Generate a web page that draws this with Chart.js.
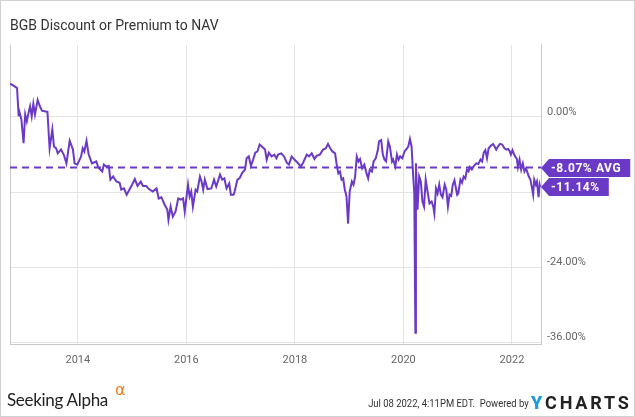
<!DOCTYPE html>
<html>
<head>
<meta charset="utf-8">
<title>BGB Discount or Premium to NAV</title>
<script src="https://cdn.jsdelivr.net/npm/chart.js@4.4.0/dist/chart.umd.min.js"></script>
<style>
  html, body { margin: 0; padding: 0; background: #fff; }
  #wrap { position: relative; width: 635px; height: 417px; overflow: hidden; font-family: Roboto, sans-serif; }
  #wrap canvas { position: absolute; left: 0; top: 0; }
  #frame { position: absolute; left: 0; top: 0; width: 633px; height: 415px; border: 1px solid #d0d0d0; pointer-events: none; }
  .sa { position: absolute; left: 7px; top: 389px; font: 17px Lato, sans-serif; color: #222; letter-spacing: -0.3px; white-space: nowrap; }
  .alpha { position: absolute; left: 115px; top: 380px; font: 16px "DejaVu Sans", sans-serif; color: #f47a20; }
  .stamp { position: absolute; right: 106px; top: 397px; font: 11px Roboto, sans-serif; color: #333; white-space: pre; transform: scaleX(0.86); transform-origin: right center; }
  .ych { position: absolute; left: 531px; top: 392px; font: bold 18px Roboto, sans-serif; letter-spacing: 2.8px; color: #222; white-space: nowrap; }
  .ych b { color: #1e9be0; }
</style>
</head>
<body>
<div id="wrap">
  <canvas id="navChart" width="635" height="417"></canvas>
  <div id="frame"></div>
  <div class="sa">Seeking Alpha</div>
  <div class="alpha">α</div>
  <div class="stamp">Jul 08 2022, 4:11PM EDT.  Powered by</div>
  <div class="ych"><b>Y</b>CHARTS</div>
</div>
<script>
// weekly-ish readings, dates as decimal years
const dates = [
  2012.75, 2012.83, 2012.88, 2012.91, 2012.92, 2012.96,
  2013.00, 2013.03, 2013.06, 2013.09, 2013.12, 2013.15, 2013.18, 2013.21, 2013.26, 2013.30,
  2013.34, 2013.44, 2013.48, 2013.53, 2013.56, 2013.60, 2013.63, 2013.69, 2013.74, 2013.79,
  2013.85, 2013.91, 2013.94, 2013.99,
  2014.06, 2014.09, 2014.12, 2014.16, 2014.20, 2014.26, 2014.34, 2014.38, 2014.45, 2014.48,
  2014.52, 2014.57, 2014.60, 2014.65, 2014.71, 2014.77, 2014.80, 2014.85, 2014.90, 2014.95,
  2015.00, 2015.05, 2015.10, 2015.16, 2015.20, 2015.26, 2015.31, 2015.38, 2015.45, 2015.49,
  2015.54, 2015.60, 2015.65, 2015.67, 2015.71, 2015.75, 2015.80, 2015.85, 2015.90, 2015.94,
  2015.97,
  2016.03, 2016.06, 2016.09, 2016.12, 2016.17, 2016.20, 2016.25, 2016.28, 2016.31, 2016.34,
  2016.39, 2016.46, 2016.51, 2016.55, 2016.62, 2016.66, 2016.70, 2016.74, 2016.79, 2016.82,
  2016.87, 2016.89, 2016.94, 2016.98,
  2017.03, 2017.08, 2017.11, 2017.15, 2017.19, 2017.23, 2017.27, 2017.31, 2017.35, 2017.40,
  2017.45, 2017.48, 2017.52, 2017.57, 2017.62, 2017.66, 2017.69, 2017.75, 2017.80, 2017.85,
  2017.89, 2017.94, 2017.99,
  2018.05, 2018.11, 2018.15, 2018.22, 2018.26, 2018.31, 2018.36, 2018.40, 2018.46, 2018.52,
  2018.57, 2018.61, 2018.65, 2018.69, 2018.74, 2018.77, 2018.80, 2018.83, 2018.86, 2018.89,
  2018.92, 2018.95, 2018.98,
  2019.01, 2019.05, 2019.08, 2019.11, 2019.14, 2019.17, 2019.20, 2019.24, 2019.28, 2019.32,
  2019.35, 2019.38, 2019.42, 2019.45, 2019.49, 2019.53, 2019.55, 2019.59, 2019.62, 2019.65,
  2019.68, 2019.72, 2019.75, 2019.79, 2019.81, 2019.85, 2019.88, 2019.91, 2019.94, 2019.98,
  2020.02, 2020.06, 2020.09, 2020.12, 2020.15, 2020.18, 2020.20, 2020.22, 2020.23, 2020.26,
  2020.29, 2020.32, 2020.35, 2020.38, 2020.41, 2020.45, 2020.48, 2020.52, 2020.55, 2020.57,
  2020.60, 2020.63, 2020.66, 2020.69, 2020.72, 2020.76, 2020.79, 2020.82, 2020.85, 2020.88,
  2020.91, 2020.94, 2020.99,
  2021.01, 2021.05, 2021.08, 2021.11, 2021.14, 2021.17, 2021.20, 2021.22, 2021.26, 2021.30,
  2021.34, 2021.38, 2021.42, 2021.45, 2021.48, 2021.51, 2021.54, 2021.57, 2021.61, 2021.65,
  2021.68, 2021.71, 2021.75, 2021.78, 2021.82, 2021.86, 2021.90, 2021.93, 2021.96, 2021.98,
  2022.01, 2022.03, 2022.06, 2022.09, 2022.11, 2022.14, 2022.17, 2022.20, 2022.23, 2022.26,
  2022.31, 2022.34, 2022.37, 2022.39, 2022.41, 2022.44, 2022.46, 2022.49, 2022.51, 2022.52
];

// discount (-) or premium (+) to NAV, in %
const discount = [
  5.3, 4.9, 4.6, 0.1, 0.9, -0.4,
  -4.2, 0.4, -0.7, 0.6, 1.7, 0.1, 2.1, 0.4, 2.7, 1.7,
  1.0, 0.8, -5.0, -2.0, -4.7, -5.0, -5.8, -5.2, -6.0, -7.4,
  -3.8, -5.2, -7.4, -7.6,
  -6.3, -5.0, -5.5, -3.8, -6.0, -7.4, -7.1, -8.1, -8.7, -7.6,
  -7.9, -7.8, -10.0, -9.5, -10.3, -10.5, -11.6, -11.4, -12.4, -11.6,
  -10.8, -9.9, -11.0, -10.3, -11.0, -11.0, -11.5, -11.9, -11.4, -13.0,
  -12.8, -14.0, -14.8, -16.4, -14.3, -15.9, -15.1, -13.0, -13.2, -13.0,
  -15.1,
  -10.8, -12.7, -11.9, -14.3, -11.6, -11.9, -9.5, -10.3, -11.6, -10.0,
  -11.5, -11.4, -10.0, -11.1, -9.2, -10.0, -9.8, -11.4, -10.6, -12.4,
  -12.4, -11.9, -10.0, -9.8,
  -8.9, -8.4, -6.6, -6.3, -7.8, -6.8, -5.7, -5.5, -4.4, -4.8,
  -5.2, -6.8, -5.7, -6.3, -6.0, -6.6, -6.0, -5.8, -6.3, -7.3,
  -7.6, -6.3, -6.8,
  -7.3, -7.9, -7.3, -6.0, -6.3, -5.8, -6.7, -6.2, -6.0, -5.2,
  -5.0, -4.3, -5.0, -5.5, -5.8, -7.6, -9.0, -8.7, -10.0, -9.8,
  -11.6, -12.6, -17.0,
  -11.9, -10.3, -10.8, -9.5, -6.3, -7.1, -6.7, -8.2, -7.6, -9.0,
  -9.8, -8.4, -8.7, -7.1, -6.6, -5.2, -3.9, -3.7, -6.0, -6.8,
  -7.1, -3.9, -4.7, -7.1, -6.8, -7.9, -6.0, -6.8, -6.3, -6.6,
  -5.5, -5.1, -4.7, -3.5, -4.7, -9.5, -12.2, -34.4, -7.4, -14.8,
  -9.5, -10.3, -13.5, -14.3, -10.0, -12.2, -13.8, -13.5, -14.3, -15.4,
  -11.4, -12.2, -10.8, -12.4, -12.8, -10.8, -11.6, -14.3, -12.4, -12.6,
  -10.8, -10.1, -12.4,
  -12.2, -10.0, -10.5, -9.5, -9.8, -8.4, -8.7, -8.0, -8.4, -7.8,
  -7.4, -7.5, -6.8, -7.1, -5.7, -5.3, -6.6, -5.0, -4.6, -4.3,
  -4.7, -5.2, -4.6, -4.3, -4.4, -5.0, -5.2, -5.1, -5.5, -6.0,
  -5.3, -5.8, -6.3, -6.7, -8.0, -6.8, -8.4, -7.4, -8.7, -8.2,
  -9.5, -10.0, -11.4, -12.4, -10.0, -10.8, -10.3, -12.8, -10.8, -11.14
];

const avgDiscount = -8.07;
const lastDiscount = discount[discount.length - 1];
const xTicks = [2014, 2016, 2018, 2020, 2022];
const yTicks = [0, -12, -24, -36];

const purple = '#6a3ac7';
const xMin = dates[0];
const xMax = 2022.535;

const points = dates.map((d, i) => ({ x: d, y: discount[i] }));

// left edge of the plot (the right edge comes from the y axis border)
const leftEdge = {
  id: 'leftEdge',
  beforeDatasetsDraw(chart) {
    const { ctx, chartArea: a } = chart;
    ctx.save();
    ctx.strokeStyle = '#c8c8c8';
    ctx.lineWidth = 1;
    ctx.beginPath();
    ctx.moveTo(a.left + 0.5, a.top);
    ctx.lineTo(a.left + 0.5, a.bottom);
    ctx.stroke();
    ctx.restore();
  }
};

// arrow shaped value tags on the right axis
const valueTags = {
  id: 'valueTags',
  afterDraw(chart) {
    const { ctx, chartArea: a, scales } = chart;
    const tags = [
      { value: avgDiscount, text: avgDiscount.toFixed(2) + '% AVG' },
      { value: lastDiscount, text: lastDiscount.toFixed(2) + '%' }
    ];
    ctx.save();
    ctx.font = 'bold 12px Roboto';
    if ('letterSpacing' in ctx) ctx.letterSpacing = '0.6px';
    tags.forEach(t => {
      const yy = Math.round(scales.y.getPixelForValue(t.value));
      const x0 = a.right;
      const w = ctx.measureText(t.text).width;
      const x1 = x0 + 10 + w + 9;
      ctx.fillStyle = purple;
      ctx.beginPath();
      ctx.moveTo(x0, yy);
      ctx.lineTo(x0 + 8, yy - 9);
      ctx.lineTo(x1, yy - 9);
      ctx.lineTo(x1, yy + 9);
      ctx.lineTo(x0 + 8, yy + 9);
      ctx.closePath();
      ctx.fill();
      ctx.fillStyle = '#fff';
      ctx.textBaseline = 'middle';
      ctx.fillText(t.text, x0 + 10, yy + 1);
    });
    ctx.restore();
  }
};

new Chart(document.getElementById('navChart'), {
  type: 'line',
  data: {
    datasets: [
      {
        label: 'Average',
        data: [{ x: xMin, y: avgDiscount }, { x: xMax, y: avgDiscount }],
        borderColor: purple,
        borderWidth: 2,
        borderDash: [7, 5],
        pointRadius: 0
      },
      {
        label: 'BGB Discount or Premium to NAV',
        data: points,
        borderColor: purple,
        borderWidth: 2,
        pointRadius: 0,
        tension: 0
      }
    ]
  },
  options: {
    responsive: false,
    animation: false,
    layout: { padding: { left: 10, right: 10, top: 0, bottom: 43 } },
    plugins: {
      legend: { display: false },
      tooltip: { enabled: false },
      title: {
        display: true,
        text: 'BGB Discount or Premium to NAV',
        align: 'start',
        color: '#333',
        font: { family: 'Roboto', size: 14, weight: 'normal' },
        padding: { top: 18, bottom: 10 }
      }
    },
    scales: {
      x: {
        type: 'linear',
        min: xMin,
        max: xMax,
        afterBuildTicks: s => { s.ticks = xTicks.map(v => ({ value: v })); },
        afterFit: s => { s.height = 30; },
        grid: { color: '#e4e4e4', drawTicks: false },
        border: { color: '#c8c8c8' },
        ticks: {
          color: '#666',
          font: { family: 'Roboto', size: 11 },
          padding: 10,
          maxRotation: 0,
          callback: v => String(v)
        }
      },
      y: {
        position: 'right',
        min: -36.2,
        max: 11.5,
        afterBuildTicks: s => { s.ticks = yTicks.map(v => ({ value: v })); },
        afterFit: s => { s.width = 84; },
        grid: { color: '#e4e4e4', drawTicks: false },
        border: { color: '#c8c8c8' },
        ticks: {
          color: '#666',
          font: { family: 'Roboto', size: 11 },
          padding: 6,
          labelOffset: -5,
          crossAlign: 'near',
          callback: v => v.toFixed(2) + '%'
        }
      }
    }
  },
  plugins: [leftEdge, valueTags]
});
</script>
</body>
</html>
